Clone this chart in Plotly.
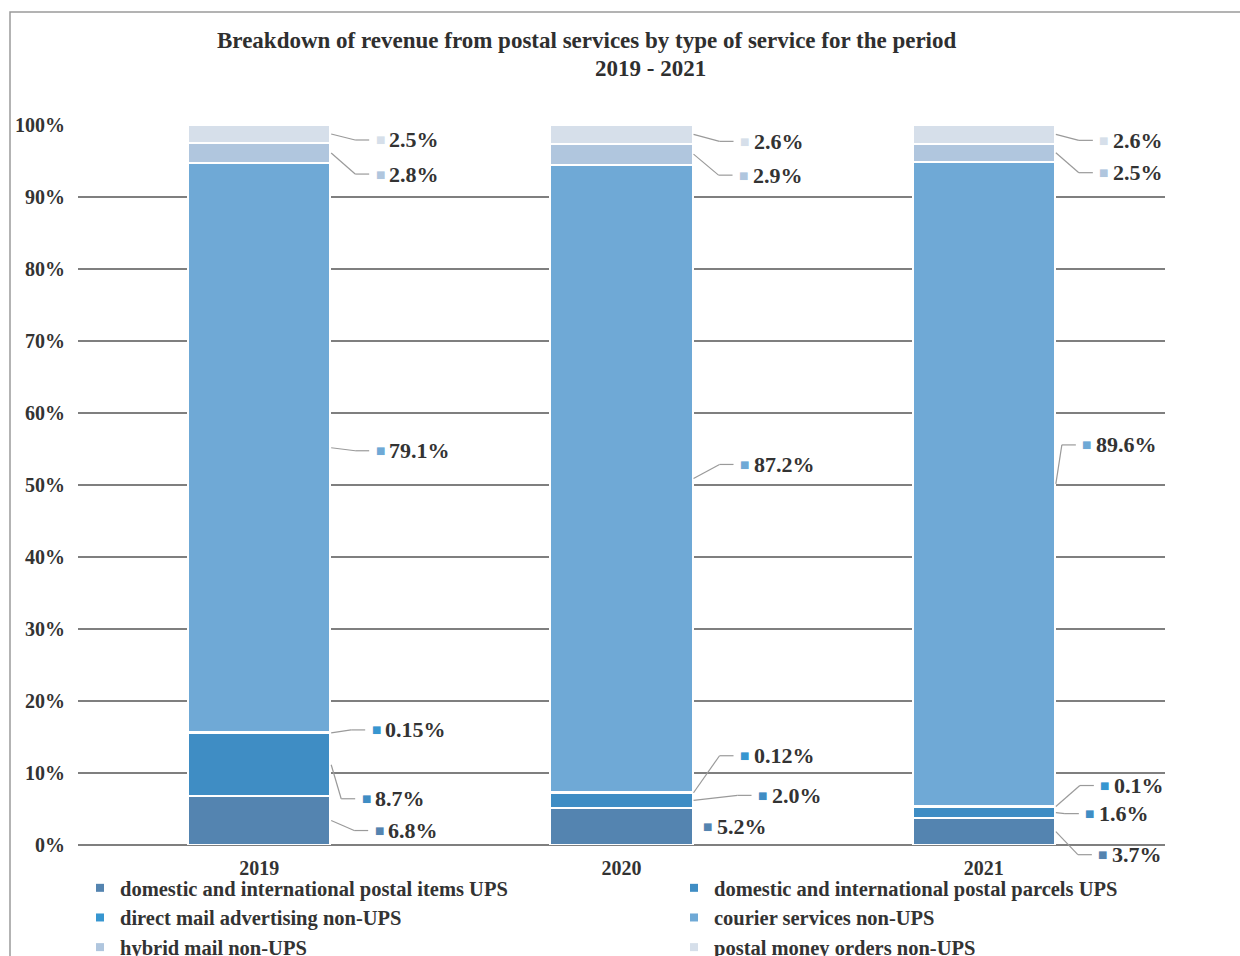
import numpy as np
import plotly.graph_objects as go

years = ["2019", "2020", "2021"]
series_names = [
    "domestic and international postal items UPS",
    "domestic and international postal parcels UPS",
    "direct mail advertising non-UPS",
    "courier services non-UPS",
    "hybrid mail non-UPS",
    "postal money orders non-UPS",
]
items_ups = [6.8, 5.2, 3.7]
parcels_ups = [8.7, 2.0, 1.6]
direct_mail = [0.15, 0.12, 0.1]
courier = [79.1, 87.2, 89.6]
hybrid = [2.8, 2.9, 2.5]
money_orders = [2.5, 2.6, 2.6]
all_series = [items_ups, parcels_ups, direct_mail, courier, hybrid, money_orders]
y_ticks = list(range(0, 101, 10))
y_tick_labels = [f"{v}%" for v in y_ticks]

colors = ["#5484b0", "#3f8dc4", "#3796d0", "#6fa9d6", "#b0c6de", "#d6dfea"]

# label layout tweaks (pixels): marker x offset from bar edge, vertical shift
label_dx = [[49, 15, 48], [36, 70, 35], [46, 52, 50], [50, 52, 32], [50, 51, 49], [50, 52, 49]]
label_dy = [[10, 0, 23], [34, -5, 1], [-3, -37, -21], [3, -14, -39], [21, 21, 20], [6, 7, 6]]
legend_col = ["legend", "legend2", "legend", "legend2", "legend", "legend2"]

# geometry
L, R, T, B = 78, 75, 125, 111
W, H = 1240, 956
plot_w = W - L - R
plot_h = H - T - B
ncat = len(years)
x_range = [-0.5, ncat - 0.5]
y_range = [0, 100]
xpx = plot_w / (x_range[1] - x_range[0])     # px per x unit
ypx = plot_h / (y_range[1] - y_range[0])     # px per percent
bar_w = 0.392

xs = np.arange(ncat)
vals = np.array(all_series, dtype=float)
totals = vals.sum(axis=0)
norm = vals / totals * 100
cum_top = np.cumsum(norm, axis=0)
cum_bot = cum_top - norm
mids = (cum_top + cum_bot) / 2


def y_paper(v):
    return (v - y_range[0]) / (y_range[1] - y_range[0])


fig = go.Figure()
for i, name in enumerate(series_names):
    fig.add_trace(go.Bar(
        x=xs, y=all_series[i], name=name, width=bar_w,
        marker=dict(color=colors[i], line=dict(color="white", width=2)),
        showlegend=False, hoverinfo="skip",
    ))
# legend entries (small square keys)
for i, name in enumerate(series_names):
    fig.add_trace(go.Scatter(
        x=[None], y=[None], mode="markers", name=name, legend=legend_col[i],
        marker=dict(symbol="square", size=8, color=colors[i]),
        hoverinfo="skip", showlegend=True,
    ))

bar_right = xs + bar_w / 2
annotations = []
shapes = []
label_font = dict(family="Liberation Serif", size=22, color="#333333", weight="bold")
for i in range(len(series_names)):
    for j in range(ncat):
        y_lab = mids[i, j] - label_dy[i][j] / ypx
        dx = label_dx[i][j]
        # colored key square
        annotations.append(dict(
            x=bar_right[j], y=y_paper(y_lab), xref="x", yref="paper", xshift=dx,
            text="■", showarrow=False, xanchor="center", yanchor="middle",
            font=dict(family="DejaVu Sans", size=10, color=colors[i]),
        ))
        annotations.append(dict(
            x=bar_right[j], y=y_paper(y_lab), xref="x", yref="paper", xshift=dx + 7,
            text=f"{all_series[i][j]}%", showarrow=False, xanchor="left", yanchor="middle",
            font=label_font,
        ))
        if dx > 25:
            x0 = bar_right[j] + 1 / xpx
            x_end = bar_right[j] + (dx - 11) / xpx
            x_elb = x_end - 14 / xpx
            line = dict(color="#9a9a9a", width=1.2)
            shapes.append(dict(type="line", xref="x", yref="paper",
                               x0=x0, y0=y_paper(mids[i, j]), x1=x_elb, y1=y_paper(y_lab), line=line))
            shapes.append(dict(type="line", xref="x", yref="paper",
                               x0=x_elb, y0=y_paper(y_lab), x1=x_end, y1=y_paper(y_lab), line=line))

font_main = dict(family="Liberation Serif", size=23, color="#2f2f2f", weight="bold")
legend_font = dict(family="Liberation Serif", size=20.5, color="#333333", weight="bold")
leg_y = (H - B - 868) / plot_h

annotations += [
    dict(text="Breakdown of revenue from postal services by type of service for the period",
         xref="paper", yref="paper", x=(587 - L) / plot_w, y=(H - B - 41) / plot_h,
         xanchor="center", yanchor="middle", showarrow=False, font=font_main),
    dict(text="2019 - 2021",
         xref="paper", yref="paper", x=(650 - L) / plot_w, y=(H - B - 68) / plot_h,
         xanchor="center", yanchor="middle", showarrow=False, font=font_main),
]
shapes.append(dict(type="rect", xref="paper", yref="paper",
                   x0=(10 - L) / plot_w, x1=(1250 - L) / plot_w,
                   y0=(H - B - 970) / plot_h, y1=(H - B - 12) / plot_h,
                   line=dict(color="#9a9a9a", width=1.5), fillcolor="rgba(0,0,0,0)", layer="below"))

fig.update_layout(
    width=W, height=H,
    margin=dict(l=L, r=R, t=T, b=B, autoexpand=False),
    barmode="stack", barnorm="percent",
    plot_bgcolor="white", paper_bgcolor="white",
    font=dict(family="Liberation Serif", color="#333333"),
    xaxis=dict(
        range=x_range, tickvals=list(xs), ticktext=years,
        showgrid=False, zeroline=False, showline=False,
        tickfont=dict(family="Liberation Serif", size=20, color="#333333", weight="bold"),
        ticklabelstandoff=9,
    ),
    yaxis=dict(
        range=y_range, tickvals=y_ticks, ticktext=y_tick_labels,
        showgrid=True, gridcolor="#7f7f7f", gridwidth=1.5,
        zeroline=True, zerolinecolor="#7f7f7f", zerolinewidth=1.5,
        tickfont=dict(family="Liberation Serif", size=20, color="#333333", weight="bold"),
        ticklabelstandoff=12,
    ),
    legend=dict(
        orientation="v", x=(80 - L) / plot_w, xanchor="left", y=leg_y, yanchor="top",
        font=legend_font, traceorder="normal", bgcolor="rgba(0,0,0,0)",
    ),
    legend2=dict(
        orientation="v", x=(674 - L) / plot_w, xanchor="left", y=leg_y, yanchor="top",
        font=legend_font, traceorder="normal", bgcolor="rgba(0,0,0,0)",
    ),
    showlegend=True,
    annotations=annotations,
    shapes=shapes,
)

fig.write_html("out.html")
